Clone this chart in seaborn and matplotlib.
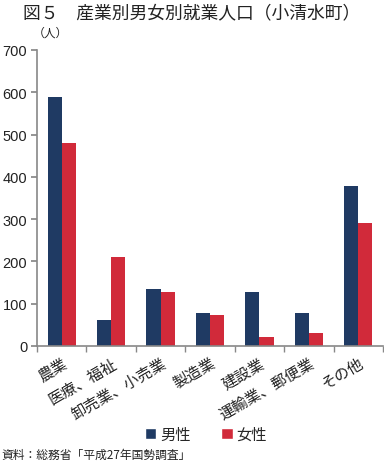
import matplotlib
matplotlib.use("Agg")
import matplotlib.pyplot as plt
import seaborn as sns
import pandas as pd
import numpy as np

categories = ["農業", "医療、福祉", "卸売業、小売業", "製造業", "建設業", "運輸業、郵便業", "その他"]
male = [590, 62, 135, 78, 128, 78, 378]
female = [481, 210, 128, 73, 22, 31, 290]
series = ["男性", "女性"]
colors = ["#1f3a63", "#d12a3a"]
yticks = [0, 100, 200, 300, 400, 500, 600, 700]

sns.set_theme(style="white")
plt.rcParams['font.family'] = ['Noto Sans CJK JP', 'DejaVu Sans']

df = pd.DataFrame({
    "cat": categories * 2,
    "sex": [series[0]] * len(categories) + [series[1]] * len(categories),
    "val": male + female,
})

fig = plt.figure(figsize=(3.84, 4.64), dpi=100)
ax = fig.add_axes([37/384, 1 - 347/464, (383-37)/384, (347-51)/464])
sns.barplot(data=df, x="cat", y="val", hue="sex", palette=colors, width=0.57,
            saturation=1, ax=ax, legend=False, order=categories, hue_order=series,
            linewidth=0, gap=0)

ax.set_ylim(0, 700)
ax.set_xlim(-0.5, 6.5)
ax.set_yticks(yticks)
ax.set_yticklabels([str(v) for v in yticks], fontsize=10.5, color="#222222",
                   family=['Liberation Sans', 'DejaVu Sans'])
ax.set_xlabel("")
ax.set_ylabel("")
ax.set_xticks(range(len(categories)))
ax.set_xticklabels(categories, rotation=30, ha="right", rotation_mode="anchor",
                   fontsize=11, color="#222222")
ax.set_xticks(np.arange(-0.5, 7, 1), minor=True)
ax.tick_params(axis="x", which="major", length=0, pad=6)
ax.tick_params(axis="x", which="minor", length=4, color="#888888", direction="out", bottom=True)
ax.tick_params(axis="y", length=4, color="#888888", direction="out", left=True, pad=3)
for s in ["top", "right"]:
    ax.spines[s].set_visible(False)
for s in ["left", "bottom"]:
    ax.spines[s].set_color("#888888")
    ax.spines[s].set_linewidth(1.2)

fig.text(0.5, 1 - 13/464, "図５　産業別男女別就業人口（小清水町）", ha="center", va="center",
         fontsize=12.8, color="#222222")
fig.text(33/384, 1 - 33/464, "（人）", ha="left", va="center", fontsize=8.5, color="#222222")

from matplotlib.patches import Patch
handles = [Patch(facecolor=c, label=l) for c, l in zip(colors, series)]
fig.legend(handles=handles, loc="center", bbox_to_anchor=(206/384, 1 - 435/464), ncol=2,
           frameon=False, fontsize=11, handlelength=0.75, handleheight=0.75,
           handletextpad=0.25, columnspacing=2.0)
fig.text(1/384, 1 - 455/464, "資料：総務省「平成27年国勢調査」", ha="left", va="center",
         fontsize=8.5, color="#222222")

fig.savefig("out.png", dpi=100)
